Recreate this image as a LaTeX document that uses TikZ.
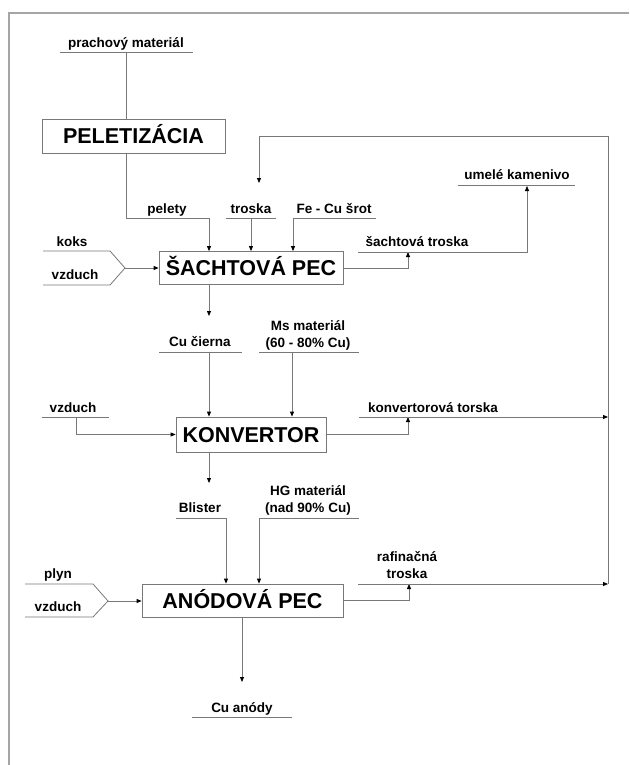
\documentclass[tikz,border=0pt]{standalone}
\usepackage{fontspec}
\setmainfont{Liberation Sans}
\usepackage{tikz}
\usetikzlibrary{arrows.meta, positioning}
\usetikzlibrary{calc}
\usepackage{xcolor}
\definecolor{linegray}{RGB}{120,120,120}
\definecolor{framegray}{RGB}{165,165,165}
\tikzset{
	wire/.style={draw=linegray, line width=0.8pt},
	flow/.style={wire, -{Triangle[length=5pt,width=4pt,color=black]}},
	box/.style={draw=linegray, line width=0.8pt, inner sep=0pt, text height=15.2pt, text depth=0pt, font=\fontsize{21.5}{25}\selectfont\bfseries},
	lbl/.style={inner sep=0pt, anchor=base, align=center, font=\fontsize{13.5}{17}\selectfont\bfseries}
}

\begin{document}
\begin{tikzpicture}[x=1pt,y=-1pt]
				\useasboundingbox (0,0) rectangle (629,765);
				\draw[framegray, line width=1.6pt] (9,765) -- (9,13) -- (629,13);
				% boxes
				\node[box, minimum width=183pt, minimum height=34pt] (pelet) at (133.5,136) {PELETIZÁCIA};
				\node[box, minimum width=184pt, minimum height=33pt] (sachta) at (251,268) {ŠACHTOVÁ PEC};
				\node[box, minimum width=150pt, minimum height=35pt] (konv) at (251,434.5) {KONVERTOR};
				\node[box, minimum width=201pt, minimum height=33pt] (anoda) at (242.5,600.5) {ANÓDOVÁ PEC};
				% labels
				\node[lbl] (prach) at (126,48) {prachový materiál};
				\node[lbl] (pelety) at (167,213) {pelety};
				\node[lbl] (troska) at (251,213) {troska};
				\node[lbl] (srot) at (334,213) {Fe - Cu šrot};
				\node[lbl] (koks) at (72,246) {koks};
				\node[lbl] (vzduchA) at (75,279) {vzduch};
				\node[lbl] (strosk) at (417,246) {šachtová troska};
				\node[lbl] (kamen) at (517,179) {umelé kamenivo};
				\node[lbl] (cierna) at (200,346) {Cu čierna};
				\node[lbl] (ms) at (308,347) {Ms materiál\\(60 - 80\% Cu)};
				\node[lbl] (vzduchB) at (73,412) {vzduch};
				\node[lbl] (ktrosk) at (433,412) {konvertorová torska};
				\node[lbl] (blister) at (200,512) {Blister};
				\node[lbl] (hg) at (308,512) {HG materiál\\(nad 90\% Cu)};
				\node[lbl] (plyn) at (58,578) {plyn};
				\node[lbl] (vzduchC) at (58,611) {vzduch};
				\node[lbl] (rtrosk) at (407,578) {rafinačná\\troska};
				\node[lbl] (anody) at (242,712) {Cu anódy};
				% underlines
				\draw[wire] (60,52) -- (193,52);
				\draw[wire] (226,218) -- (276,218);
				\draw[wire] (293,218) -- (376,218);
				\draw[wire] (458,185) -- (575,185);
				\draw[wire] (159,352) -- (242,352);
				\draw[wire] (259,352) -- (359,352);
				\draw[wire] (42,417) -- (109,417);
				\draw[wire] (176,518) -- (226,518);
				\draw[wire] (259,518) -- (359,518);
				\draw[wire] (192,717) -- (292,717);
				% inlets
				\draw[wire] (43,251) -- (110,251) -- (125,268) coordinate (inA) -- (110,285) -- (43,285);
				\draw[wire] (25,584) -- (93,584) -- (108,601) coordinate (inC) -- (93,617) -- (25,617);
				% points
				\coordinate (p1) at (126,52);
				\coordinate (peletyK) at (209,218);
				\coordinate (troskaK) at (251,218);
				\coordinate (srotK) at (293,218);
				\coordinate (recTop) at (608,136);
				\coordinate (recBot) at (608,584);
				\coordinate (recEnd) at (259,183);
				\coordinate (stK) at (408,252);
				\coordinate (kamK) at (527,186);
				\coordinate (cK) at (209,316);
				\coordinate (c2) at (209,352);
				\coordinate (m2) at (292,352);
				\coordinate (v2) at (76,417);
				\coordinate (ktK) at (408,417);
				\coordinate (bK) at (209,483);
				\coordinate (b2) at (226,518);
				\coordinate (h2) at (259,518);
				\coordinate (rtK) at (409,584);
				\coordinate (aK) at (242,682);
				% connectors
				\draw[wire] (p1) -- (p1 |- pelet.north);
				\draw[flow] (p1 |- pelet.south) |- (peletyK) -- (peletyK |- sachta.north);
				\draw[flow] (troskaK) -- (troskaK |- sachta.north);
				\draw[flow] (srotK) -- (srotK |- sachta.north);
				\draw[flow] (recBot) -- (recTop) -| (recEnd);
				\draw[flow] (inA) -- (inA -| sachta.west);
				\draw[flow] (sachta.east) -| (stK);
				\draw[flow] (358,252) -| (kamK);
				\draw[flow] (cK |- sachta.south) -- (cK);
				\draw[flow] (c2) -- (c2 |- konv.north);
				\draw[flow] (m2) -- (m2 |- konv.north);
				\draw[flow] (v2) |- (konv.west);
				\draw[flow] (konv.east) -| (ktK);
				\draw[flow] (359,417) -- (recTop |- ktK);
				\draw[flow] (bK |- konv.south) -- (bK);
				\draw[flow] (b2) -- (b2 |- anoda.north);
				\draw[flow] (h2) -- (h2 |- anoda.north);
				\draw[flow] (inC) -- (inC -| anoda.west);
				\draw[flow] (anoda.east) -| (rtK);
				\draw[flow] (358,584) -- (recBot);
				\draw[flow] (aK |- anoda.south) -- (aK);
			\end{tikzpicture}
\end{document}
